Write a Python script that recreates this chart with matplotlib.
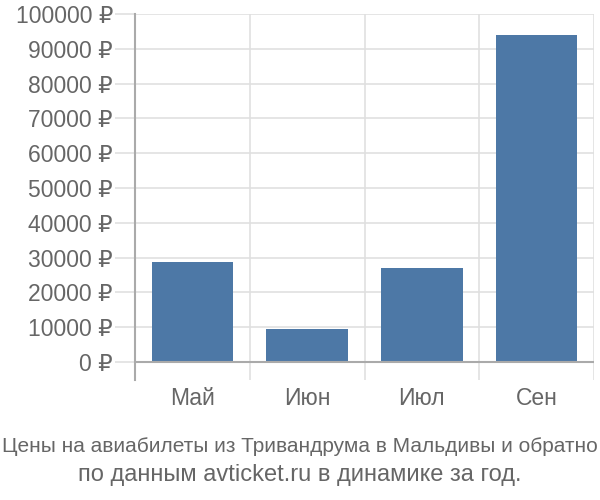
import matplotlib
matplotlib.use("Agg")
import matplotlib.pyplot as plt

categories = ["Май", "Июн", "Июл", "Сен"]
prices = [28700, 9400, 27100, 94000]
yticks = [0, 10000, 20000, 30000, 40000, 50000, 60000, 70000, 80000, 90000, 100000]
title_lines = ["Цены на авиабилеты из Тривандрума в Мальдивы и обратно",
               "по данным avticket.ru в динамике за год."]

fam = ["Liberation Sans", "DejaVu Sans"]
plt.rcParams["font.family"] = fam

fig = plt.figure(figsize=(6, 5), dpi=100)
ax = fig.add_axes([135/600, 1-380/500, (594-135)/600, (380-14)/500])

x = list(range(len(categories)))
ax.bar(x, prices, width=0.71, color="#4d78a6", zorder=3)
ax.set_xlim(-0.5, len(categories)-0.5)
ax.set_ylim(-5200, 100000)

for v in yticks:
    ax.axhline(v, color="#e0e0e0", lw=1.2, zorder=1)
ax.axhline(0, color="#aaaaaa", lw=1.5, zorder=4)
for b in [i - 0.5 for i in range(len(categories) + 1)]:
    ax.axvline(b, color="#e0e0e0", lw=1.2, zorder=1)

ax.set_yticks(yticks)
ax.set_yticklabels([f"{v} ₽" for v in yticks])
ax.tick_params(axis="y", length=14.4, color="#e0e0e0", width=1.2, labelsize=16.5,
               labelcolor="#666666", pad=1.5)
ax.set_xticks(x)
ax.set_xticklabels(categories)
ax.tick_params(axis="x", length=0, labelsize=16.5, labelcolor="#666666", pad=5)

for s in ["top", "right", "bottom"]:
    ax.spines[s].set_visible(False)
ax.spines["left"].set_color("#aaaaaa")
ax.spines["left"].set_linewidth(1.5)

fig.text(0.5, 1-446/500, title_lines[0], ha="center", va="center",
         fontsize=15, color="#666666")
fig.text(0.5, 1-475/500, title_lines[1], ha="center", va="center",
         fontsize=17, color="#666666")

fig.savefig("out.png", dpi=100)
